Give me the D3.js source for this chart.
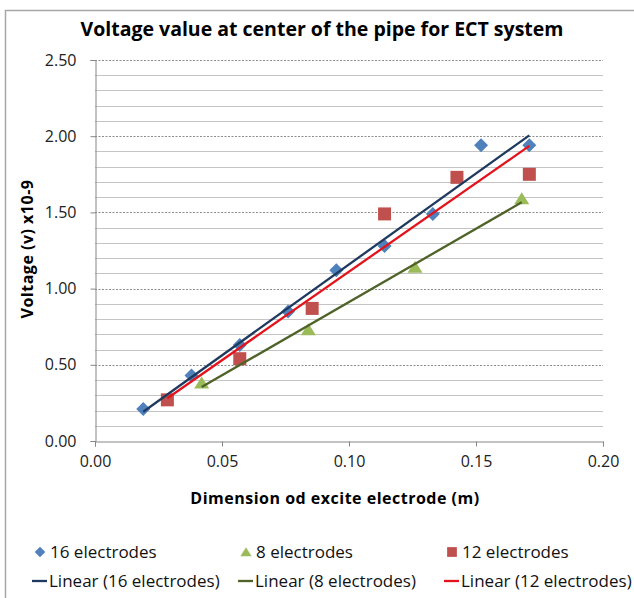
<!DOCTYPE html>
<html>
<head>
<meta charset="utf-8">
<script src="https://cdn.jsdelivr.net/npm/d3@7"></script>
<style>
  body { margin: 0; background: #fff; }
  svg text { font-family: "Open Sans", sans-serif; }
</style>
</head>
<body>
<script>
const w = 634;
const h = 598;

// data
const x16 = [0.019, 0.038, 0.057, 0.076, 0.095, 0.114, 0.133, 0.152, 0.171];
const y16 = [0.21, 0.43, 0.63, 0.85, 1.12, 1.28, 1.49, 1.94, 1.94];
const x8 = [0.042, 0.084, 0.126, 0.168];
const y8 = [0.38, 0.73, 1.14, 1.59];
const x12 = [0.0285, 0.057, 0.0855, 0.114, 0.1425, 0.171];
const y12 = [0.27, 0.54, 0.87, 1.49, 1.73, 1.75];

const xTicks = [0, 0.05, 0.10, 0.15, 0.20];
const yTicks = [0, 0.5, 1.0, 1.5, 2.0, 2.5];

const series = [
    { name: "16 electrodes", xs: x16, ys: y16, shape: "diamond", color: "#4f81bd", trend: "#1f3a5f" },
    { name: "8 electrodes", xs: x8, ys: y8, shape: "triangle", color: "#9bbb59", trend: "#4f6228" },
    { name: "12 electrodes", xs: x12, ys: y12, shape: "square", color: "#c0504d", trend: "#e3131b" }
];

const plot = { left: 95, right: 603, top: 60, bottom: 441 };

const xScale = d3.scaleLinear().domain([0, 0.2]).range([plot.left, plot.right]);
const yScale = d3.scaleLinear().domain([0, 2.5]).range([plot.bottom, plot.top]);

const svg = d3.select("body")
    .append("svg")
    .attr("width", w)
    .attr("height", h);

// chart border
svg.append("rect")
    .attr("x", 5.5).attr("y", 10.5)
    .attr("width", 700).attr("height", 700)
    .attr("fill", "none")
    .attr("stroke", "#a6a6a6")
    .attr("stroke-width", 1.5);

// minor gridlines every 0.1
const minor = d3.range(1, 25).map(i => i / 10).filter(v => Math.abs(v * 2 - Math.round(v * 2)) > 1e-6);
svg.append("g")
    .selectAll("line")
    .data(minor)
    .enter()
    .append("line")
    .attr("x1", plot.left).attr("x2", plot.right)
    .attr("y1", d => Math.round(yScale(d)) + 0.5)
    .attr("y2", d => Math.round(yScale(d)) + 0.5)
    .attr("stroke", "#c4c4c4")
    .attr("stroke-width", 1.2);

// major gridlines, dashed
svg.append("g")
    .selectAll("line")
    .data(yTicks.slice(1))
    .enter()
    .append("line")
    .attr("x1", plot.left).attr("x2", plot.right)
    .attr("y1", d => Math.round(yScale(d)) + 0.5)
    .attr("y2", d => Math.round(yScale(d)) + 0.5)
    .attr("stroke", "#8c8c8c")
    .attr("stroke-dasharray", "2,1.5")
    .attr("stroke-width", 1);

// axes
const xAxis = d3.axisBottom(xScale)
    .tickValues(xTicks)
    .tickFormat(d3.format(".2f"))
    .tickSize(5)
    .tickPadding(9);

const yAxis = d3.axisLeft(yScale)
    .tickValues(yTicks)
    .tickFormat(d3.format(".2f"))
    .tickSize(5)
    .tickPadding(14);

const gx = svg.append("g")
    .attr("transform", `translate(0, ${plot.bottom + 0.5})`)
    .call(xAxis);
const gy = svg.append("g")
    .attr("transform", `translate(${plot.left + 0.5}, 0)`)
    .call(yAxis);

[gx, gy].forEach(g => {
    g.select(".domain").attr("stroke", "#868686");
    g.selectAll(".tick line").attr("stroke", "#868686");
    g.selectAll(".tick text")
        .attr("fill", "#222")
        .style("font-size", "16px")
        .style("font-family", "'Open Sans', sans-serif");
});

// least squares trend lines
function fit(xs, ys) {
    const n = xs.length;
    const mx = d3.mean(xs), my = d3.mean(ys);
    let sxy = 0, sxx = 0;
    for (let i = 0; i < n; i++) {
        sxy += (xs[i] - mx) * (ys[i] - my);
        sxx += (xs[i] - mx) * (xs[i] - mx);
    }
    const b = sxy / sxx;
    return { a: my - b * mx, b: b };
}

function markerPath(shape) {
    if (shape === "diamond") return "M0,-7L7,0L0,7L-7,0Z";
    if (shape === "triangle") return "M0,-6.5L7.5,5.5L-7.5,5.5Z";
    return "M-6.5,-6.5H6.5V6.5H-6.5Z";
}

// markers
series.forEach(s => {
    svg.append("g")
        .selectAll("path")
        .data(s.xs.map((x, i) => [x, s.ys[i]]))
        .enter()
        .append("path")
        .attr("d", markerPath(s.shape))
        .attr("transform", d => `translate(${xScale(d[0])}, ${yScale(d[1])})`)
        .attr("fill", s.color);
});

// trend lines on top of markers
series.forEach(s => {
    const f = fit(s.xs, s.ys);
    const x0 = d3.min(s.xs), x1 = d3.max(s.xs);
    svg.append("line")
        .attr("x1", xScale(x0)).attr("y1", yScale(f.a + f.b * x0))
        .attr("x2", xScale(x1)).attr("y2", yScale(f.a + f.b * x1))
        .attr("stroke", s.trend)
        .attr("stroke-width", 2.3);
});

// title
svg.append("text")
    .attr("x", 322).attr("y", 36)
    .attr("text-anchor", "middle")
    .style("font-size", "19.5px")
    .style("font-weight", "bold")
    .attr("fill", "#000")
    .text("Voltage value at center of the pipe for ECT system");

svg.append("text")
    .attr("x", 335).attr("y", 504)
    .attr("text-anchor", "middle")
    .style("font-size", "16px")
    .style("letter-spacing", "0.5px")
    .style("font-weight", "bold")
    .text("Dimension od excite electrode (m)");

svg.append("text")
    .attr("transform", "translate(33, 249) rotate(-90)")
    .attr("text-anchor", "middle")
    .style("font-size", "16px")
    .style("letter-spacing", "0.5px")
    .style("font-weight", "bold")
    .text("Voltage (v) x10-9");

// legend
const legX = [40, 246, 452];
series.forEach((s, i) => {
    const g = svg.append("g").attr("transform", `translate(${legX[i]}, 552)`);
    g.append("path")
        .attr("d", markerPath(s.shape))
        .attr("transform", "scale(0.75)")
        .attr("fill", s.color);
    g.append("text")
        .attr("x", 10).attr("y", 6)
        .style("font-size", "17px")
        .attr("fill", "#111")
        .text(s.name);

    const g2 = svg.append("g").attr("transform", `translate(${legX[i]}, 581)`);
    g2.append("line")
        .attr("x1", -8).attr("x2", 7)
        .attr("y1", 0).attr("y2", 0)
        .attr("stroke", s.trend)
        .attr("stroke-width", 2.3);
    g2.append("text")
        .attr("x", 9).attr("y", 6)
        .style("font-size", "17px")
        .attr("fill", "#111")
        .text(`Linear (${s.name})`);
});
</script>
</body>
</html>
